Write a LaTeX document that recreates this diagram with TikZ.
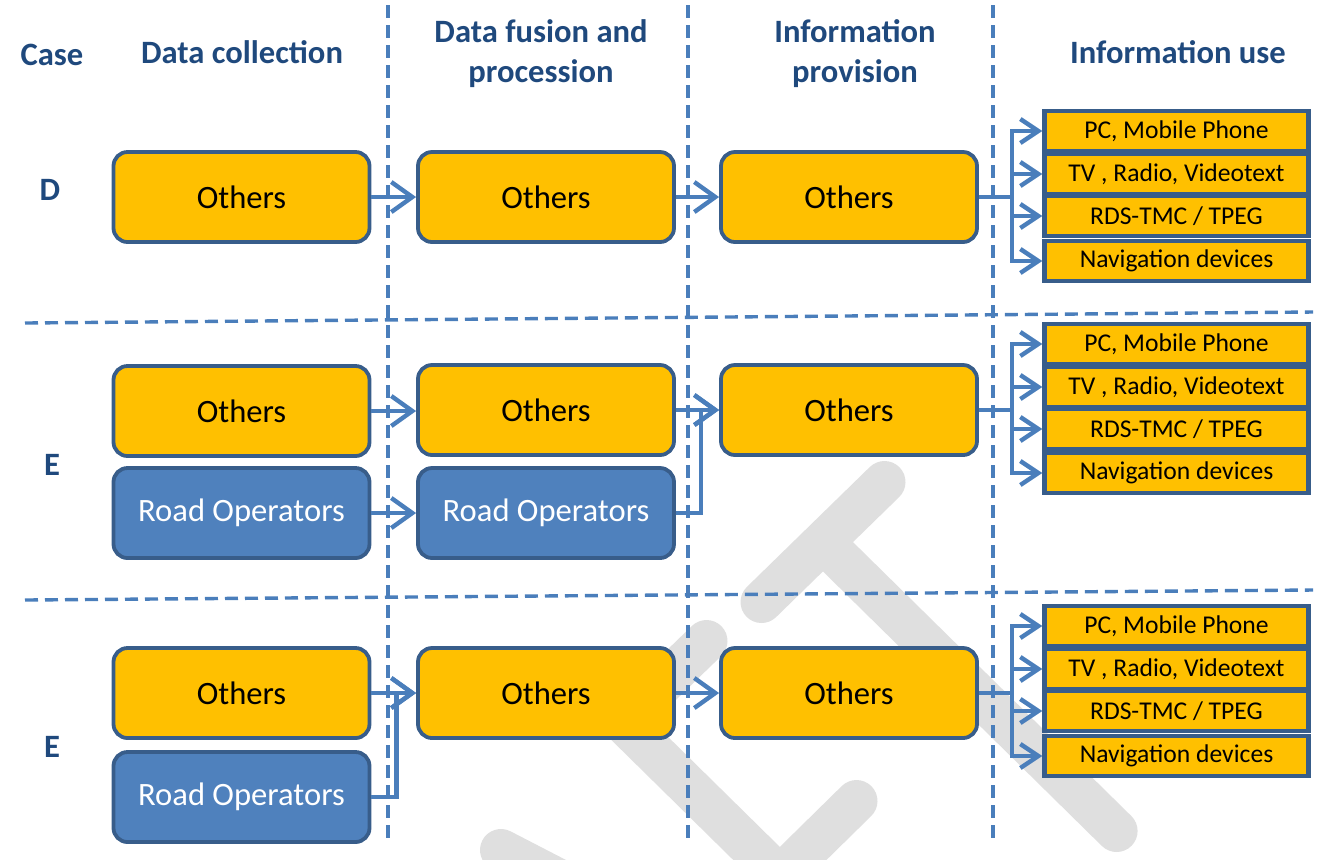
\documentclass[tikz,border=0pt]{standalone}
\usepackage{fontspec}
\setmainfont{Carlito}
\usetikzlibrary{positioning,arrows.meta}
\definecolor{gold}{HTML}{FFC000}
\definecolor{edgeblue}{HTML}{385D8A}
\definecolor{roadblue}{HTML}{4F81BD}
\definecolor{linkblue}{HTML}{4A7EBB}
\definecolor{headnavy}{HTML}{1F497D}
\tikzset{
  others/.style={draw=edgeblue, fill=gold, line width=1.9pt, rounded corners=7pt,
    minimum width=128pt, minimum height=45pt, inner sep=0pt, font=\fontsize{16.3}{19}\selectfont},
  roadop/.style={others, fill=roadblue, text=white},
  usebox/.style={draw=edgeblue, fill=gold, line width=2.2pt, minimum width=132pt,
    minimum height=20pt, inner sep=0pt, font=\fontsize{12.8}{15}\selectfont},
  header/.style={text=headnavy, font=\bfseries\fontsize{16.3}{20}\selectfont, align=center},
  flow/.style={linkblue, line width=2.2pt, -{Straight Barb[length=10.5pt,width=15pt]}},
  fan/.style={linkblue, line width=2.2pt, -{Straight Barb[length=9pt,width=12pt]}},
  divider/.style={linkblue, line width=1.7pt, dash pattern=on 6.5pt off 3.5pt},
  wmark/.style={gray!25, line width=21pt, line cap=round}
}

\begin{document}
\begin{tikzpicture}[x=0.5pt, y=-0.5pt]
\useasboundingbox (0,0) rectangle (1333,859);
% watermark
\begin{scope}
\clip (0,0) rectangle (1333,859);
\draw[wmark] (884.5,482) -- (761.5,602);
\draw[wmark] (825,544) -- (1116.6,831);
\draw[wmark] (706.5,641) -- (623,722) -- (812,908);
\draw[wmark] (856.5,801) -- (770,886);
\draw[wmark] (501,850) -- (590,896);
\end{scope}
% grid
\draw[divider] (388,5) -- (388,845);
\draw[divider] (688,5) -- (688,845);
\draw[divider] (993,5) -- (993,845);
\draw[divider] (25,323) -- (1313,312);
\draw[divider] (25,600) -- (1313,590);
% headers
\node[header] (HC) at (52,55) {Case};
\node[header] (H1) at (242,52) {Data collection};
\node[header] (H2) at (541,54) {Data fusion and\\procession};
\node[header] (H3) at (855,54) {Information\\provision};
\node[header] (H4) at (1178,52) {Information use};
\node[header] (CD) at (50,190) {D};
\node[header] (CE) at (52,465) {E};
\node[header] (CF) at (52,747) {E};
% case D
\node[others] (D1) at (241.5,197) {Others};
\node[others] (D2) at (546,197) {Others};
\node[others] (D3) at (849,197) {Others};
\node[usebox] (DU1) at (1176.5,131) {PC, Mobile Phone};
\node[usebox] (DU2) at (1176.5,174) {TV , Radio, Videotext};
\node[usebox] (DU3) at (1176.5,216) {RDS-TMC / TPEG};
\node[usebox] (DU4) at (1176.5,261) {Navigation devices};
\draw[flow] (D1) -- (D2);
\draw[flow] (D2) -- (D3);
\draw[fan] (D3.east) -- ++(33,0) |- (DU1.west);
\draw[fan] (D3.east) -- ++(33,0) |- (DU2.west);
\draw[fan] (D3.east) -- ++(33,0) |- (DU3.west);
\draw[fan] (D3.east) -- ++(33,0) |- (DU4.west);
% case E
\node[others] (E1) at (241.5,411) {Others};
\node[roadop] (E1R) at (241.5,513) {Road Operators};
\node[others] (E2) at (546,410) {Others};
\node[roadop] (E2R) at (546,513) {Road Operators};
\node[others] (E3) at (849,410) {Others};
\node[usebox] (EU1) at (1176.5,344) {PC, Mobile Phone};
\node[usebox] (EU2) at (1176.5,387) {TV , Radio, Videotext};
\node[usebox] (EU3) at (1176.5,429) {RDS-TMC / TPEG};
\node[usebox] (EU4) at (1176.5,473) {Navigation devices};
\draw[flow] (E1.east) -- (E1.east -| E2.west);
\draw[flow] (E1R.east) -- (E1R.east -| E2R.west);
\draw[flow] (E2) -- (E3);
\draw[flow] (E2R.east) -- ++(25,0) |- (E3.west);
\draw[fan] (E3.east) -- ++(33,0) |- (EU1.west);
\draw[fan] (E3.east) -- ++(33,0) |- (EU2.west);
\draw[fan] (E3.east) -- ++(33,0) |- (EU3.west);
\draw[fan] (E3.east) -- ++(33,0) |- (EU4.west);
% case E, fused
\node[others] (F1) at (241.5,693) {Others};
\node[roadop] (F1R) at (241.5,797) {Road Operators};
\node[others] (F2) at (546,693) {Others};
\node[others] (F3) at (849,693) {Others};
\node[usebox] (FU1) at (1176.5,626) {PC, Mobile Phone};
\node[usebox] (FU2) at (1176.5,669) {TV , Radio, Videotext};
\node[usebox] (FU3) at (1176.5,711) {RDS-TMC / TPEG};
\node[usebox] (FU4) at (1176.5,756) {Navigation devices};
\draw[flow] (F1) -- (F2);
\draw[flow] (F1R.east) -- ++(25,0) |- (F2.west);
\draw[flow] (F2) -- (F3);
\draw[fan] (F3.east) -- ++(33,0) |- (FU1.west);
\draw[fan] (F3.east) -- ++(33,0) |- (FU2.west);
\draw[fan] (F3.east) -- ++(33,0) |- (FU3.west);
\draw[fan] (F3.east) -- ++(33,0) |- (FU4.west);
\end{tikzpicture}
\end{document}
